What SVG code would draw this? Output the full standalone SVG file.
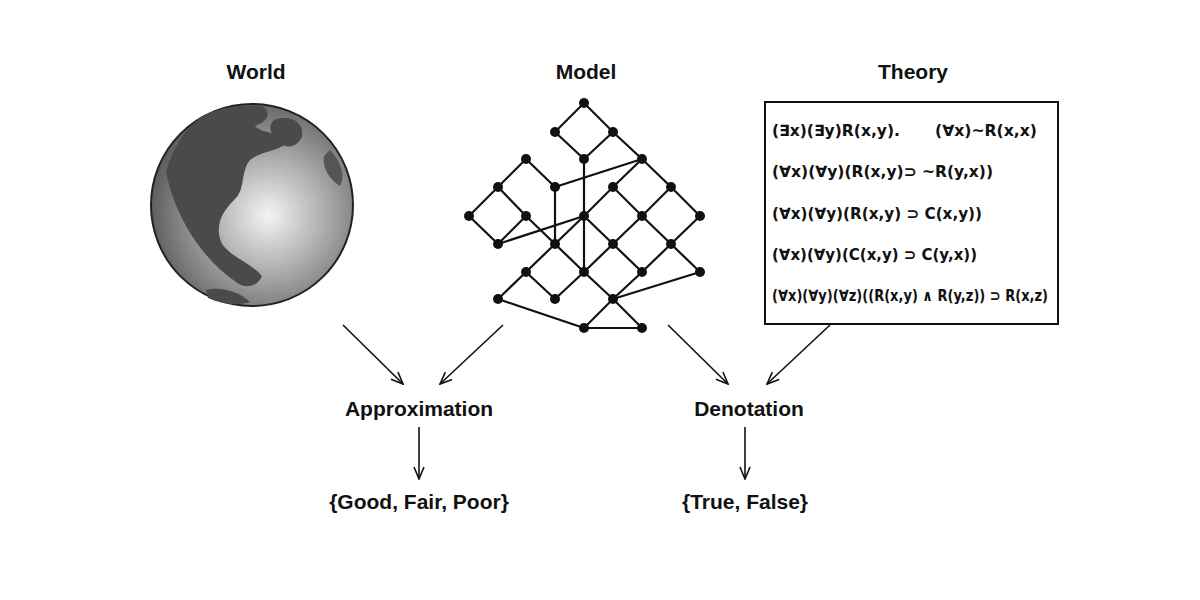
<svg xmlns="http://www.w3.org/2000/svg" width="1200" height="600" viewBox="0 0 1200 600">
<style>
.t{font-family:"Liberation Sans",Arial,sans-serif;font-weight:bold;font-size:21px;fill:#111;text-anchor:middle}
.f{font-family:"DejaVu Sans","Liberation Sans",sans-serif;font-weight:bold;font-size:15.5px;fill:#111}
.e line{stroke:#111;stroke-width:2.2}
.n circle{fill:#111}
.c line{stroke:#111;stroke-width:1.6;marker-end:url(#ah)}
</style>
<defs>
<marker id="ah" markerWidth="14" markerHeight="12" refX="13" refY="6" orient="auto" markerUnits="userSpaceOnUse">
<path d="M1,1 L13,6 L1,11" fill="none" stroke="#111" stroke-width="1.6"/>
</marker>
<radialGradient id="g" cx="0.58" cy="0.55" r="0.6">
<stop offset="0" stop-color="#f4f4f4"/><stop offset="0.5" stop-color="#a8a8a8"/><stop offset="1" stop-color="#5a5a5a"/>
</radialGradient>
</defs>
<rect width="1200" height="600" fill="#fff"/>
<g id="world">
<text class="t" x="256" y="79">World</text>
<circle cx="252" cy="205" r="101" fill="url(#g)" stroke="#222" stroke-width="2"/>
<path d="M200,118 C215,108 240,104 262,106 C272,112 268,122 255,126 C262,134 280,132 288,140 C282,152 262,150 250,160 C240,172 246,190 234,200 C222,212 214,226 222,244 C232,258 250,262 262,276 C258,286 246,290 236,282 C218,270 204,254 192,236 C178,214 170,192 166,172 C172,150 184,130 200,118 Z" fill="#4a4a4a"/>
<path d="M274,120 C290,114 304,122 302,136 C298,148 284,150 276,140 C270,132 268,126 274,120 Z" fill="#4a4a4a"/>
<path d="M330,150 C340,160 346,176 340,186 C330,180 322,168 324,156 Z" fill="#555"/>
<path d="M206,290 C220,286 240,292 250,302 C238,306 220,304 208,298 Z" fill="#4a4a4a"/>
</g>
<g id="model">
<text class="t" x="586" y="79">Model</text>
<g class="e">
<line x1="584" y1="103" x2="555" y2="132"/><line x1="584" y1="103" x2="613" y2="132"/>
<line x1="555" y1="132" x2="584" y2="159"/><line x1="613" y1="132" x2="584" y2="159"/>
<line x1="613" y1="132" x2="642" y2="159"/><line x1="642" y1="159" x2="555" y2="187"/>
<line x1="584" y1="159" x2="584" y2="272"/>
<line x1="526" y1="159" x2="498" y2="187"/><line x1="526" y1="159" x2="555" y2="187"/>
<line x1="498" y1="187" x2="469" y2="216"/><line x1="498" y1="187" x2="526" y2="216"/>
<line x1="469" y1="216" x2="498" y2="244"/><line x1="526" y1="216" x2="498" y2="244"/>
<line x1="498" y1="244" x2="584" y2="216"/><line x1="526" y1="216" x2="555" y2="244"/>
<line x1="555" y1="187" x2="555" y2="244"/>
<line x1="642" y1="159" x2="613" y2="187"/><line x1="642" y1="159" x2="671" y2="187"/>
<line x1="613" y1="187" x2="584" y2="216"/><line x1="613" y1="187" x2="642" y2="216"/>
<line x1="671" y1="187" x2="642" y2="216"/><line x1="671" y1="187" x2="700" y2="216"/>
<line x1="584" y1="216" x2="555" y2="244"/><line x1="584" y1="216" x2="613" y2="244"/>
<line x1="642" y1="216" x2="613" y2="244"/><line x1="642" y1="216" x2="671" y2="244"/>
<line x1="700" y1="216" x2="671" y2="244"/>
<line x1="555" y1="244" x2="526" y2="272"/><line x1="555" y1="244" x2="584" y2="272"/>
<line x1="613" y1="244" x2="584" y2="272"/><line x1="613" y1="244" x2="642" y2="272"/>
<line x1="671" y1="244" x2="642" y2="272"/><line x1="671" y1="244" x2="700" y2="272"/>
<line x1="526" y1="272" x2="498" y2="299"/><line x1="526" y1="272" x2="555" y2="299"/>
<line x1="584" y1="272" x2="555" y2="299"/><line x1="584" y1="272" x2="613" y2="299"/>
<line x1="642" y1="272" x2="613" y2="299"/><line x1="700" y1="272" x2="613" y2="299"/>
<line x1="498" y1="299" x2="584" y2="328"/><line x1="613" y1="299" x2="584" y2="328"/>
<line x1="613" y1="299" x2="642" y2="328"/><line x1="584" y1="328" x2="642" y2="328"/>
</g>
<g class="n">
<circle cx="584" cy="103" r="5"/><circle cx="555" cy="132" r="5"/><circle cx="613" cy="132" r="5"/>
<circle cx="584" cy="159" r="5"/><circle cx="642" cy="159" r="5"/><circle cx="526" cy="159" r="5"/>
<circle cx="498" cy="187" r="5"/><circle cx="555" cy="187" r="5"/><circle cx="613" cy="187" r="5"/><circle cx="671" cy="187" r="5"/>
<circle cx="469" cy="216" r="5"/><circle cx="526" cy="216" r="5"/><circle cx="584" cy="216" r="5"/><circle cx="642" cy="216" r="5"/><circle cx="700" cy="216" r="5"/>
<circle cx="498" cy="244" r="5"/><circle cx="555" cy="244" r="5"/><circle cx="613" cy="244" r="5"/><circle cx="671" cy="244" r="5"/>
<circle cx="526" cy="272" r="5"/><circle cx="584" cy="272" r="5"/><circle cx="642" cy="272" r="5"/><circle cx="700" cy="272" r="5"/>
<circle cx="498" cy="299" r="5"/><circle cx="555" cy="299" r="5"/><circle cx="613" cy="299" r="5"/>
<circle cx="584" cy="328" r="5"/><circle cx="642" cy="328" r="5"/>
</g>
</g>
<g id="theory">
<text class="t" x="913" y="79">Theory</text>
<rect x="765" y="102" width="293" height="222" fill="#fff" stroke="#111" stroke-width="2"/>
<text class="f" x="772" y="136" textLength="128" lengthAdjust="spacingAndGlyphs">(∃x)(∃y)R(x,y).</text>
<text class="f" x="935" y="136" textLength="102" lengthAdjust="spacingAndGlyphs">(∀x)~R(x,x)</text>
<text class="f" x="772" y="177" textLength="221" lengthAdjust="spacingAndGlyphs">(∀x)(∀y)(R(x,y)⊃ ~R(y,x))</text>
<text class="f" x="772" y="219" textLength="210" lengthAdjust="spacingAndGlyphs">(∀x)(∀y)(R(x,y) ⊃ C(x,y))</text>
<text class="f" x="772" y="260" textLength="205" lengthAdjust="spacingAndGlyphs">(∀x)(∀y)(C(x,y) ⊃ C(y,x))</text>
<text class="f" x="772" y="301" textLength="276" lengthAdjust="spacingAndGlyphs">(∀x)(∀y)(∀z)((R(x,y) ∧ R(y,z)) ⊃ R(x,z)</text>
</g>
<g id="approximation"><text class="t" x="419" y="416">Approximation</text></g>
<g id="denotation"><text class="t" x="749" y="416">Denotation</text></g>
<g id="gfp"><text class="t" x="419" y="509">{Good, Fair, Poor}</text></g>
<g id="tf"><text class="t" x="745" y="509">{True, False}</text></g>
<g class="c" id="connectors">
<line x1="343" y1="325" x2="403" y2="384"/>
<line x1="503" y1="325" x2="440" y2="384"/>
<line x1="668" y1="325" x2="728" y2="384"/>
<line x1="830" y1="325" x2="767" y2="384"/>
<line x1="419" y1="427" x2="419" y2="479"/>
<line x1="745" y1="427" x2="745" y2="479"/>
</g>
</svg>
